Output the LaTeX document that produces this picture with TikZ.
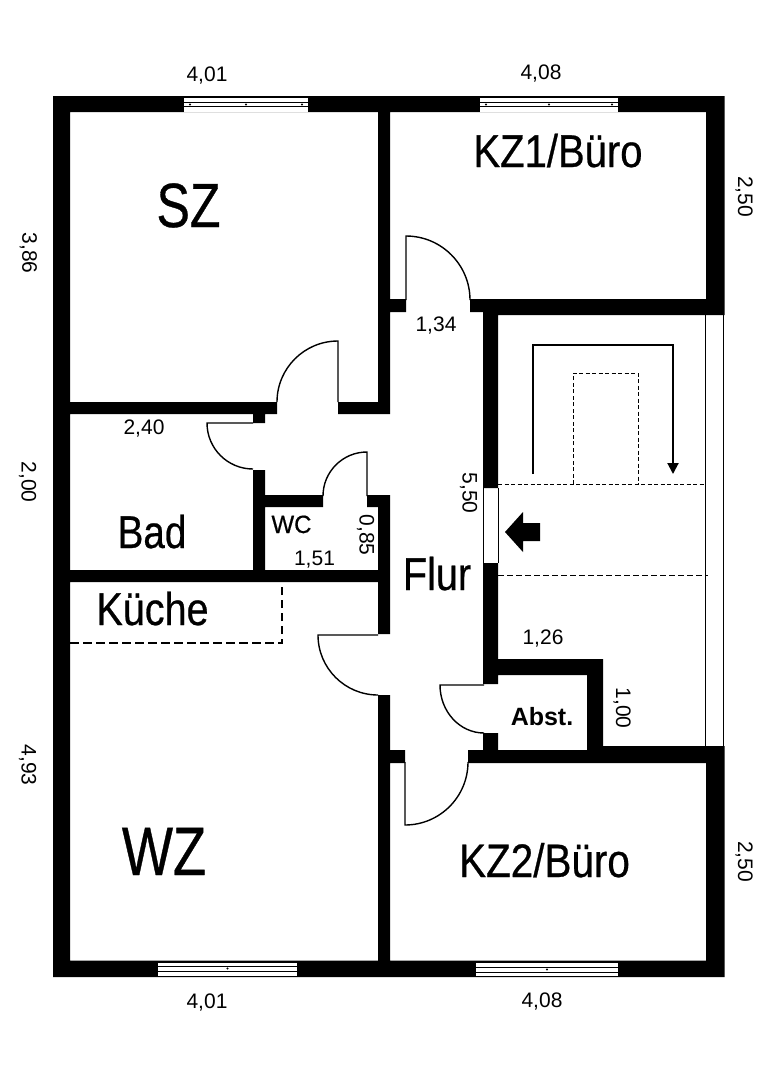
\documentclass[tikz,border=0pt]{standalone}
\usepackage{fontspec}
\setmainfont{Liberation Sans}
\usetikzlibrary{arrows.meta}
\tikzset{
  leaf/.style={line width=1.4pt},
  hidden/.style={line width=1pt,dash pattern=on 4pt off 2.5pt},
  longhidden/.style={line width=1.1pt,dash pattern=on 8.5pt off 4.5pt},
  room/.style={inner sep=0pt,anchor=base},
  size/.style={inner sep=0pt,text height=15pt,text depth=0pt,font=\fontsize{21}{21}\selectfont},
  sized/.style={size,rotate=-90}
}
\newcommand{\door}[4]{\draw[leaf](#1)--++(#2:#4)arc(#2:#3:#4);}
\newcommand{\pane}[5]{%
  \fill[white](#1,#3)rectangle(#2,#3+13.5);
  \draw[line width=.9pt](#1,#4)--(#2,#4)(#1,#5)--(#2,#5);
  \fill({(#1+#2)/2},{(#4+#5)/2})circle(1.2);}
\newcommand{\roomtext}[5]{\node[room](#1)at(#2){\fontsize{#3}{#3}\addfontfeature{FakeBold=.6}\scalebox{#4}[1]{#5}};}
\begin{document}
\begin{tikzpicture}[x=1pt,y=-1pt]
\useasboundingbox[fill=white](0,0)rectangle(768,1080);
\fill(53,96)rectangle(724.5,112)(53,960.5)rectangle(724.5,977)(53,96)rectangle(70,977)
(706,96)rectangle(724.5,315)(706,746)rectangle(724.5,977)
(378,112)rectangle(390,414)(70,402)rectangle(277,414)(338,402)rectangle(390,414)
(253,414)rectangle(265,423)(253,470)rectangle(265,576)
(253,495)rectangle(323,507)(367,495)rectangle(390,507)
(70,570)rectangle(390,582)(378,495)rectangle(390,634)(378,695)rectangle(390,961)
(390,299)rectangle(406,312)(470,299)rectangle(724,312)(483,299)rectangle(724,315)
(483,299)rectangle(498,488)(483,563)rectangle(498,684)(483,733)rectangle(498,760)
(498,659)rectangle(603,675)(587,659)rectangle(603,760)
(468,750)rectangle(707,763)(587,746)rectangle(707,763)(390,750)rectangle(405,763);
\foreach\xa/\xb/\ya/\la/\lb in {184/308/98/102.5/106.5,480/618/98/102.5/106.5,158/297/962.5/966/971,476/618/962.5/967/972}
  {\pane{\xa}{\xb}{\ya}{\la}{\lb}}
\foreach\xx in {190,302,486,612}{\fill(\xx,104.5)circle(1.2);}
\coordinate(SZ)at(338,402);\coordinate(BA)at(253,423);\coordinate(WC)at(367,496);
\coordinate(WZ)at(378,635);\coordinate(K1)at(406,300);\coordinate(K2)at(405,762);\coordinate(AB)at(484,685);
\door{SZ}{-90}{-180}{61}
\door{BA}{180}{90}{46}
\door{WC}{-90}{-180}{44}
\door{WZ}{180}{90}{60}
\door{K1}{-90}{0}{64}
\door{K2}{90}{0}{63}
\door{AB}{180}{90}{44 and 48}
\draw[line width=1pt](705.5,315)--(705.5,746)(723.5,315)--(723.5,746)(483.5,488)--(483.5,563)(498,488)--(498,563);
\draw[hidden](498,484)--(705,484)(573,484)--(573,373)--(638,373)--(638,484);
\draw[hidden,dash pattern=on 6pt off 3pt](498,575)--(708,575);
\draw[longhidden](70,643)--(282,643)--(282,582);
\draw[line width=2pt,-{Triangle[length=11pt,width=11pt]}](533,474)--(533,345)--(673,345)--(673,474);
\fill(505,532)--(523,512)--(523,523)--(540,523)--(540,541)--(523,541)--(523,552)--cycle;
\roomtext{sz}{188.5,227}{62.5}{.8}{SZ}
\roomtext{kz1}{558,167}{46}{.87}{KZ1/Büro}
\roomtext{bad}{152,548}{46}{.84}{Bad}
\roomtext{kue}{152.5,625}{46}{.86}{Küche}
\roomtext{flur}{437,590}{46}{.86}{Flur}
\roomtext{wz}{164,875}{68.5}{.79}{WZ}
\roomtext{kz2}{544.5,877}{47}{.86}{KZ2/Büro}
\roomtext{wc}{291.5,533}{25}{.96}{WC}
\node[room,font=\fontsize{25}{25}\selectfont\bfseries](abst)at(542,725){Abst.};
\foreach\name/\xx/\yy/\txt in {a/207/74/4{,}01,b/541/72/4{,}08,c/207/1000.5/4{,}01,d/542/999.5/4{,}08,
e/144/427/2{,}40,f/436/323.5/1{,}34,g/314.5/557.5/1{,}51,h/543/636.5/1{,}26}
  {\node[size](\name)at(\xx,\yy){\txt};}
\foreach\name/\xx/\yy/\txt in {i/30/253/3{,}86,j/29/482/2{,}00,k/29/765/4{,}93,l/745.5/196.5/2{,}50,m/745.5/861.5/2{,}50,
n/470/493/5{,}50,o/367/535/0{,}85,p/623.5/708/1{,}00}
  {\node[sized](\name)at(\xx,\yy){\txt};}
\end{tikzpicture}
\end{document}
